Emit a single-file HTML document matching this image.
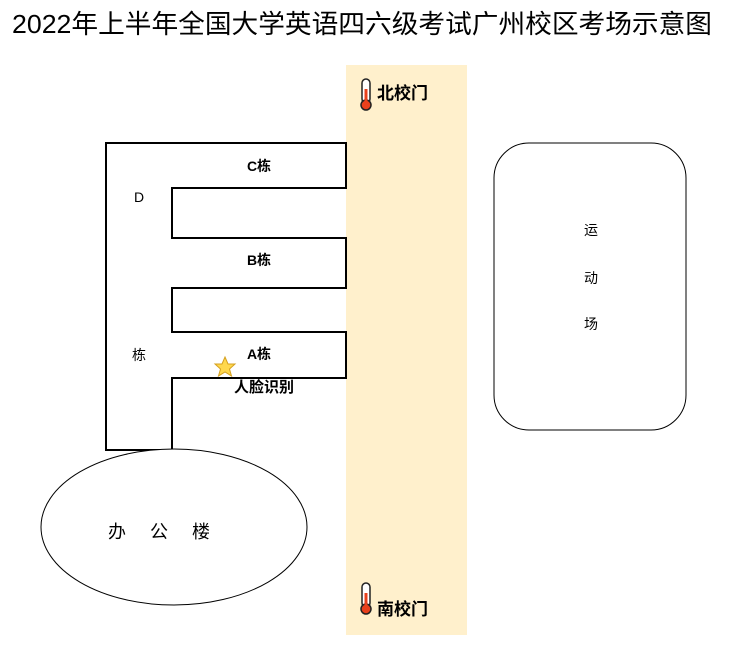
<!DOCTYPE html>
<html><head><meta charset="utf-8"><style>
body{margin:0;background:#fff;}
svg{display:block;font-family:"Liberation Sans","Noto Sans CJK SC",sans-serif;}
</style></head><body>
<svg width="729" height="648" viewBox="0 0 729 648" xmlns="http://www.w3.org/2000/svg">
<text x="12" y="33" font-size="26" textLength="700" lengthAdjust="spacingAndGlyphs" fill="#000">2022年上半年全国大学英语四六级考试广州校区考场示意图</text>
<rect x="346" y="65" width="121" height="570" fill="#fff0cc"/>
<polygon points="106,143 346,143 346,188 172,188 172,238 346,238 346,288 172,288 172,332 346,332 346,378 172,378 172,450 106,450" fill="#fff" stroke="#000" stroke-width="2"/>
<text x="259" y="171" font-size="14" font-weight="bold" text-anchor="middle">C栋</text>
<text x="259" y="265" font-size="14" font-weight="bold" text-anchor="middle">B栋</text>
<text x="259" y="359" font-size="14" font-weight="bold" text-anchor="middle">A栋</text>
<text x="139" y="202" font-size="14" text-anchor="middle">D</text>
<text x="139" y="360" font-size="14" text-anchor="middle">栋</text>
<polygon points="225,357 228,364 235,364 229.5,369 231.5,376 225,372 218.5,376 220.5,369 215,364 222,364" fill="#ffd84d" stroke="#d4a020" stroke-width="1"/>
<text x="264" y="392" font-size="15" font-weight="bold" text-anchor="middle">人脸识别</text>
<ellipse cx="174" cy="527" rx="133" ry="78" fill="#fff" stroke="#000" stroke-width="1"/>
<text x="108" y="538" font-size="18" textLength="102" lengthAdjust="spacing">办 公 楼</text>
<rect x="494" y="143" width="192" height="287" rx="35" ry="35" fill="#fff" stroke="#000" stroke-width="1"/>
<text x="591" y="235" font-size="14" text-anchor="middle">运</text>
<text x="591" y="283" font-size="14" text-anchor="middle">动</text>
<text x="591" y="329" font-size="14" text-anchor="middle">场</text>
<g>
<rect x="362" y="79" width="8" height="24" rx="4" fill="#fff" stroke="#222" stroke-width="1.5"/>
<circle cx="366" cy="105" r="5" fill="#e8401c" stroke="#222" stroke-width="1.5"/>
<rect x="364.5" y="89" width="3" height="15" fill="#e8401c"/>
</g>
<text x="377" y="99" font-size="17" font-weight="bold">北校门</text>
<g>
<rect x="362" y="583" width="8" height="24" rx="4" fill="#fff" stroke="#222" stroke-width="1.5"/>
<circle cx="366" cy="609" r="5" fill="#e8401c" stroke="#222" stroke-width="1.5"/>
<rect x="364.5" y="593" width="3" height="15" fill="#e8401c"/>
</g>
<text x="377" y="615" font-size="17" font-weight="bold">南校门</text>
</svg>
</body></html>
